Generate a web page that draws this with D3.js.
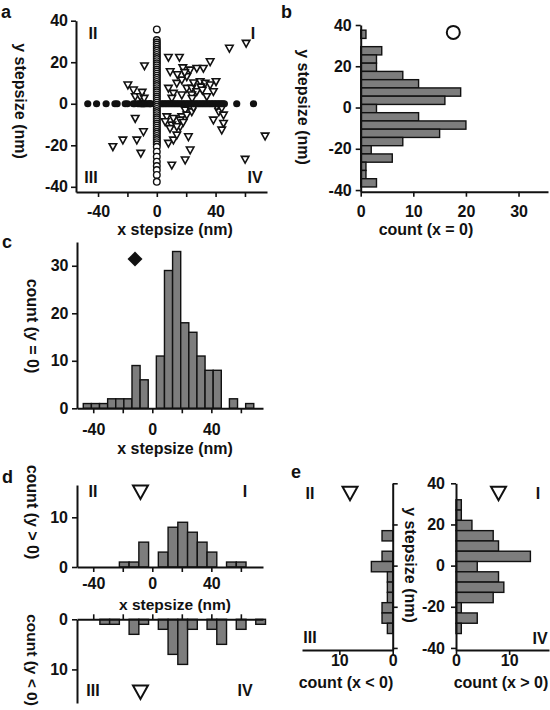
<!DOCTYPE html>
<html><head><meta charset="utf-8">
<script src="https://cdn.jsdelivr.net/npm/d3@7"></script>
<style>
body{margin:0;background:#fff}
svg{display:block}
text{font-family:"Liberation Sans",Arial,Helvetica,sans-serif;font-weight:bold;fill:#111;font-size:16px}
</style></head><body>
<svg id="chart" width="550" height="710"></svg>
<script>
// ---------------- DATA ----------------
// panel a: steps with y = 0 (x values), steps with x = 0 (y values), off-axis steps
const stepsY0_x = [-47,-41,-34.5,-28.5,-27,-21.5,-20,-16,-15,-13,-12,-11,-10.5,-10,-9.5,-9,-8.5,-8,-7,-6,-5,-4.5,-4,
  3,4,5,6,7,8,9,10,11,12,13,14,15,16,17,18,19,20,21,22,23,24,25,26,27,28,29,30,31,32,33,34,35,36,37,38,39,40,41,42,43,44,45,46,54.4,65.8];
const stepsX0_y = [35.8,30.7,29.5,28.5,27.5,26.5,25.5,24.5,23.5,22.5,21.5,20.5,19.5,18.5,17.5,16.5,15.5,14.5,13.5,12.5,11.5,10.5,9.5,8.5,7.5,6.5,5.5,4.5,3.5,2.5,1.5,0.5,
  -0.5,-1.5,-2.5,-3.5,-4.5,-5.5,-6.5,-7.5,-8.5,-9.5,-10.5,-11.5,-12.5,-13.5,-14.5,-15.5,-16.5,-17.5,-18.5,-19.5,-20.7,-23.1,-25.5,-27.9,-30,-31.9,-34.3,-37.6];
const offX = [49.4,60.8,7.9,15.4,36.3,9.1,17.7,22.7,27.2,31.7,7.9,11.3,13.6,17,20.4,20.4,23.8,27.2,29.5,32.9,36.3,40.3,38.5,10.2,17,23.8,34,25,30,19,14,24,31,
  -8.4,-19.7,-15.9,-14.7,-11.3,-8.6,-10,
  -14.7,-9.1,-13.6,-23.1,-29.9,-10.9,
  73.7,60.1,10.2,6.8,7.9,11.3,13.6,15.9,19.3,17,20.4,23.8,21.5,22.7,19.3,10.2,11.3,15.9,13.6,38.5,42.2,44.2,45.4,45.4,44.2,40.8,5.7,18,25,9];
const offY = [26.7,29.1,22.3,22.3,20.2,15.4,17.3,16.2,17,17,7.4,5,9.8,11.4,13,7.4,7.4,5.8,10.6,9.8,9,10.6,5.8,2.6,4.2,4.2,3.4,10,8,15,14,2.5,6.5,
  18.2,9,6.6,3.4,3.4,2.6,5.5,
  -7.1,-13.5,-17.5,-17.5,-20.7,-23.9,
  -15.6,-26.8,-10.3,-6.3,-19.1,-17.5,-15.1,-11.1,-3.1,-6.3,-5.5,-3.9,-15.9,-22.3,-27.1,-29.6,-7.1,-7.9,-11.1,-7.9,-3.9,-2.2,-5.5,-9.5,-12.7,-1.4,-8.7,-9,-2,-12];

// panel b: histogram of y steps (x = 0), bins of 4 nm from top edge 37.5 downward
const binsB_top = 37.5, binsB_width = 4;
const countsB = [1,0,4,3,3,8,11,19,16,3,11,20,15,8,2,6,1,1,3];

// panel c: histogram of x steps (y = 0), bins of 5.5 nm from -46.75
const binsC_start = -46.75, binsC_width = 5.5;
const countsC = [1,1,1,2,2,2,9,6,0,11,29,33,18,16,11,8,8,0,2,0,1];

// panel d: x steps, y > 0 (top) and y < 0 (bottom), bins of 6.6 nm
const binsDtop_start = -22.3, binsD_width = 6.6;
const countsDtop = [1,1,5,0,3,8,9,7,5,3,0,1,1];
const binsDbot_start = -35.5;
const countsDbot = [1,1,0,3,1,0,2,7,9,2,0,2,5,0,2,0,1];

// panel e: y steps, x < 0 (left) and x > 0 (right), bins of 5 nm from top edge 32
const binsE_top = 32, binsE_width = 5;
const countsEleft  = [0,0,0,2,0,2,4,1,1,1,2,2,1];
const countsEright = [1,1,3,7,8,14,4,8,9,7,1,4,1];

// tick values and labels
const stepTicks = [-40,-20,0,20,40,60];
const stepTickLabels = ["-40","","0","","40",""];
const yStepTicks = [40,20,0,-20,-40];
const yStepTickLabels = ["40","20","0","-20","-40"];
const countTicksB = [0,10,20,30];
const countTicksC = [0,10,20,30];
const countTicksD = [0,10];
const countTicksE = [0,10];

// ---------------- DRAW ----------------
const svg = d3.select("#chart");
const BAR = "#7d7d7d";

function axis(orient, scale, tx, ty, ticks, labels, pad, size) {
  const gen = {bottom:d3.axisBottom, top:d3.axisTop, left:d3.axisLeft, right:d3.axisRight}[orient](scale)
    .tickValues(ticks).tickFormat((d,i)=>labels ? labels[i] : "")
    .tickSize(size===undefined?5:size).tickSizeOuter(0).tickPadding(pad===undefined?3:pad);
  const g = svg.append("g").attr("transform",`translate(${tx},${ty})`).call(gen)
    .attr("font-size",null).attr("font-family",null);
  g.select(".domain").attr("stroke","#111").attr("stroke-width",2);
  g.selectAll(".tick line").attr("stroke","#111").attr("stroke-width",1.6);
  return g;
}
function label(txt, x, y, rot, size) {
  const t = svg.append("text").attr("text-anchor","middle").attr("dominant-baseline","central")
    .attr("transform",`translate(${x},${y})` + (rot?` rotate(${rot})`:""))
    .text(txt);
  if (size) t.style("font-size", size+"px");
  return t;
}
function vbars(xs, ys, start, w, counts, down) {
  svg.append("g").selectAll("rect").data(counts.map((c,i)=>({c,i})).filter(d=>d.c>0)).join("rect")
    .attr("x", d=>xs(start+d.i*w)).attr("width", d=>xs(start+(d.i+1)*w)-xs(start+d.i*w))
    .attr("y", d=> down ? ys(0) : ys(d.c))
    .attr("height", d=> Math.abs(ys(d.c)-ys(0)))
    .attr("fill",BAR).attr("stroke","#111").attr("stroke-width",1.4);
}
function hbars(xs, ys, top, w, counts) {
  svg.append("g").selectAll("rect").data(counts.map((c,i)=>({c,i})).filter(d=>d.c>0)).join("rect")
    .attr("y", d=>ys(top-d.i*w)).attr("height", d=>ys(top-(d.i+1)*w)-ys(top-d.i*w))
    .attr("x", d=>Math.min(xs(0),xs(d.c))).attr("width", d=>Math.abs(xs(d.c)-xs(0)))
    .attr("fill",BAR).attr("stroke","#111").attr("stroke-width",1.4);
}
const triPath = (cx,cy,s) => `M${cx-s/2},${cy-s*0.4}L${cx+s/2},${cy-s*0.4}L${cx},${cy+s*0.5}Z`;

// ---- panel a ----
const xA = d3.scaleLinear().domain([-55,75]).range([76,267]);
const yA = d3.scaleLinear().domain([-42.5,40]).range([192,20.7]);
const pts = offX.map((x,i)=>({x, y:offY[i]}));
svg.append("g").selectAll("path").data(pts).join("path")
  .attr("d", d=>triPath(xA(d.x), yA(d.y), 7.5))
  .attr("fill","#fff").attr("stroke","#111").attr("stroke-width",1.6);
svg.append("g").selectAll("circle").data(stepsY0_x).join("circle")
  .attr("cx", d=>xA(d)).attr("cy", yA(0)).attr("r",3.6).attr("fill","#111");
svg.append("g").selectAll("circle").data(stepsX0_y).join("circle")
  .attr("cx", xA(0)).attr("cy", d=>yA(d)).attr("r",3.3)
  .attr("fill","#fff").attr("stroke","#111").attr("stroke-width",1.4);
axis("bottom", xA, 0, 192, stepTicks, stepTickLabels, 9);
axis("left", yA, 76, 0, yStepTicks, yStepTickLabels, 3);
label("x stepsize (nm)", 175, 229);
label("y stepsize (nm)", 20, 101, 90);
label("II", 93, 33); label("I", 253, 33); label("III", 91, 177); label("IV", 255, 177);
svg.append("text").attr("x",1).attr("y",18).style("font-size","18px").text("a");

// ---- panel b ----
const xB = d3.scaleLinear().domain([0,35.6]).range([360.7,548]);
const yB = d3.scaleLinear().domain([-40.8,40]).range([191.7,25]);
hbars(xB, yB, binsB_top, binsB_width, countsB);
axis("bottom", xB, 0, 191.7, countTicksB, countTicksB.map(String), 9);
axis("left", yB, 360.7, 0, yStepTicks, yStepTickLabels, 4);
label("count (x = 0)", 426, 229);
label("y stepsize (nm)", 303, 107, 90);
svg.append("circle").attr("cx", xB(17.6)).attr("cy", yB(36.4)).attr("r",6.5)
  .attr("fill","#fff").attr("stroke","#111").attr("stroke-width",2);
svg.append("text").attr("x",281).attr("y",18).style("font-size","18px").text("b");

// ---- panel c ----
const xC = d3.scaleLinear().domain([-51,75]).range([77,263]);
const yC = d3.scaleLinear().domain([0,35]).range([408.3,242]);
vbars(xC, yC, binsC_start, binsC_width, countsC, false);
axis("bottom", xC, 0, 408.3, stepTicks, stepTickLabels, 10);
axis("left", yC, 77, 0, countTicksC, countTicksC.map(String), 3.5);
label("x stepsize (nm)", 175, 448);
label("count (y = 0)", 32, 326, 90);
{ const cx = xC(-11.7), cy = yC(31.4), s = 7.5;
  svg.append("path").attr("d",`M${cx},${cy-s}L${cx+s},${cy}L${cx},${cy+s}L${cx-s},${cy}Z`).attr("fill","#111"); }
svg.append("text").attr("x",2).attr("y",248).style("font-size","18px").text("c");

// ---- panel d ----
const xD = d3.scaleLinear().domain([-51,75]).range([77,263]);
const yDt = d3.scaleLinear().domain([0,16.5]).range([567,485]);
const yDb = d3.scaleLinear().domain([0,16.7]).range([619.3,703]);
vbars(xD, yDt, binsDtop_start, binsD_width, countsDtop, false);
vbars(xD, yDb, binsDbot_start, binsD_width, countsDbot, true);
axis("bottom", xD, 0, 567, stepTicks, stepTickLabels, 6);
axis("left", yDt, 77, 0, countTicksD, countTicksD.map(String), 4);
axis("top", xD, 0, 619.3, stepTicks, null, 3);
axis("left", yDb, 77, 0, countTicksD, countTicksD.map(String), 4);
label("x stepsize (nm)", 175, 604, 0, 15.5);
label("count (y > 0)", 32, 512, 90);
label("count (y < 0)", 32, 660, 90, 15.5);
label("II", 93, 491); label("I", 245, 491); label("III", 93, 690); label("IV", 245, 690);
svg.append("path").attr("d", triPath(xD(-8), yDt(15.2), 15)).attr("fill","#fff").attr("stroke","#111").attr("stroke-width",2);
svg.append("path").attr("d", triPath(xD(-8), yDb(14.4), 15)).attr("fill","#fff").attr("stroke","#111").attr("stroke-width",2);
svg.append("text").attr("x",2).attr("y",483).style("font-size","18px").text("d");

// ---- panel e ----
const yE = d3.scaleLinear().domain([-41,40]).range([650,483.3]);
const xEL = d3.scaleLinear().domain([0,17]).range([392.7,302]);
const xER = d3.scaleLinear().domain([0,17.5]).range([456,549]);
hbars(xEL, yE, binsE_top, binsE_width, countsEleft);
hbars(xER, yE, binsE_top, binsE_width, countsEright);
axis("right", yE, 392.7, 0, yStepTicks, null, 3);
axis("bottom", xEL, 0, 650, countTicksE, countTicksE.map(String), 0);
axis("left", yE, 456, 0, yStepTicks, yStepTickLabels, 6);
axis("bottom", xER, 0, 650, countTicksE, countTicksE.map(String), 0);
label("count (x < 0)", 346, 682);
label("count (x > 0)", 501, 682);
label("y stepsize (nm)", 410, 565, 90);
label("II", 310, 493); label("III", 310, 637); label("I", 538, 493); label("IV", 540, 638);
svg.append("path").attr("d", triPath(xEL(8), yE(35.4), 15)).attr("fill","#fff").attr("stroke","#111").attr("stroke-width",2);
svg.append("path").attr("d", triPath(xER(8), yE(35.4), 15)).attr("fill","#fff").attr("stroke","#111").attr("stroke-width",2);
svg.append("text").attr("x",291).attr("y",478).style("font-size","18px").text("e");
</script>
</body></html>
